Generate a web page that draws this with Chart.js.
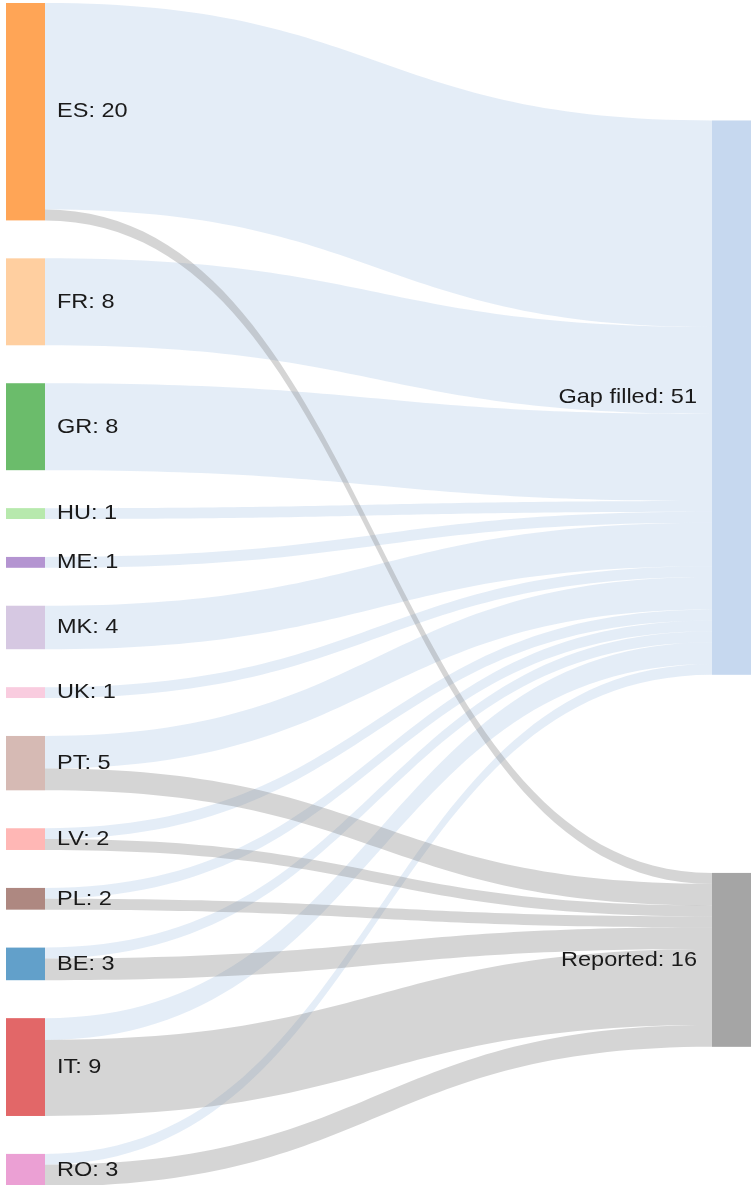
<!DOCTYPE html>
<html>
<head>
<meta charset="utf-8">
<script src="https://cdn.jsdelivr.net/npm/chart.js@4/dist/chart.umd.min.js"></script>
<style>
  html, body { margin: 0; padding: 0; background: #fff; }
  #wrap { width: 751px; height: 1185px; position: relative; }
</style>
</head>
<body>
<div id="wrap"><canvas id="myChart"></canvas></div>
<script>
// source countries, top to bottom
const sources = ['ES', 'FR', 'GR', 'HU', 'ME', 'MK', 'UK', 'PT', 'LV', 'PL', 'BE', 'IT', 'RO'];
const targets = ['Gap filled', 'Reported'];
// flow values per source into each target
const gapFilled = [19, 8, 8, 1, 1, 4, 1, 3, 1, 1, 1, 2, 1];
const reported  = [1, 0, 0, 0, 0, 0, 0, 2, 1, 1, 2, 7, 2];

// styles
const sourceColors = ['#ff7f0e', '#ffbb78', '#2ca02c', '#98df8a', '#9467bd', '#c5b0d5', '#f7b6d2',
                      '#c49c94', '#ff9896', '#8c564b', '#1f77b4', '#d62728', '#e377c2'];
const targetColors = ['#aec7e8', '#7f7f7f'];
const nodeAlpha = 0.7;
const linkAlpha = 0.33;
const nodePad = 3.49;     // gap between nodes, in value units
const nodeW = 39 / 745;   // node width, in x-axis units

function rgba(hex, a) {
    const n = parseInt(hex.slice(1), 16);
    return `rgba(${n >> 16},${(n >> 8) & 255},${n & 255},${a})`;
}

const flows = [gapFilled, reported];

function computeLayout() {
    // left column stacked from the top
    const left = [];
    let y = 0;
    sources.forEach((s, i) => {
        const v = gapFilled[i] + reported[i];
        left.push({ top: y, bottom: y + v, value: v });
        y += v + nodePad;
    });
    // right column: centred on the weighted mean of incoming flows
    const right = targets.map((t, j) => {
        let tot = 0, acc = 0;
        sources.forEach((s, i) => {
            const before = j === 0 ? 0 : gapFilled[i];
            const v = flows[j][i];
            if (!v) return;
            acc += v * (left[i].top + before + v / 2);
            tot += v;
        });
        const c = acc / tot;
        return { top: c - tot / 2, bottom: c + tot / 2, value: tot, off: c - tot / 2 };
    });
    // links, stacked on the right in source order
    const links = [];
    targets.forEach((t, j) => {
        sources.forEach((s, i) => {
            const v = flows[j][i];
            if (!v) return;
            const s0 = left[i].top + (j === 0 ? 0 : gapFilled[i]);
            links.push({ j, i, v, s0, t0: right[j].off });
            right[j].off += v;
        });
    });
    return { left, right, links };
}

const sankeyPlugin = {
    id: 'sankey',
    afterDatasetsDraw(chart) {
        const { ctx, scales: { x, y } } = chart;
        const L = computeLayout();
        const xl0 = x.getPixelForValue(0), xl1 = x.getPixelForValue(nodeW);
        const xr0 = x.getPixelForValue(1 - nodeW), xr1 = x.getPixelForValue(1);
        const xm = (xl1 + xr0) / 2;
        ctx.save();

        // links
        L.links.forEach(l => {
            const a0 = y.getPixelForValue(l.s0), a1 = y.getPixelForValue(l.s0 + l.v);
            const b0 = y.getPixelForValue(l.t0), b1 = y.getPixelForValue(l.t0 + l.v);
            ctx.beginPath();
            ctx.moveTo(xl1, a0);
            ctx.bezierCurveTo(xm, a0, xm, b0, xr0, b0);
            ctx.lineTo(xr0, b1);
            ctx.bezierCurveTo(xm, b1, xm, a1, xl1, a1);
            ctx.closePath();
            ctx.fillStyle = rgba(targetColors[l.j], linkAlpha);
            ctx.fill();
        });

        // nodes
        L.left.forEach((n, i) => {
            const t = y.getPixelForValue(n.top), b = y.getPixelForValue(n.bottom);
            ctx.fillStyle = rgba(sourceColors[i], nodeAlpha);
            ctx.fillRect(xl0, t, xl1 - xl0, b - t);
        });
        L.right.forEach((n, j) => {
            const t = y.getPixelForValue(n.top), b = y.getPixelForValue(n.bottom);
            ctx.fillStyle = rgba(targetColors[j], nodeAlpha);
            ctx.fillRect(xr0, t, xr1 - xr0, b - t);
        });

        // labels
        ctx.font = '21px "Liberation Sans", Arial, sans-serif';
        ctx.fillStyle = '#1a1a1a';
        ctx.textBaseline = 'middle';
        const label = (txt, px, py, align) => {
            ctx.save();
            ctx.translate(px, py);
            ctx.scale(1.12, 1);
            ctx.textAlign = align;
            ctx.fillText(txt, 0, 0);
            ctx.restore();
        };
        L.left.forEach((n, i) => {
            const c = y.getPixelForValue((n.top + n.bottom) / 2);
            label(sources[i] + ': ' + n.value, xl1 + 12, c, 'left');
        });
        L.right.forEach((n, j) => {
            const c = y.getPixelForValue((n.top + n.bottom) / 2);
            label(targets[j] + ': ' + n.value, xr0 - 15, c, 'right');
        });
        ctx.restore();
    }
};

const ctx = document.getElementById('myChart').getContext('2d');
const myChart = new Chart(ctx, {
    type: 'scatter',
    data: { datasets: [{ data: [] }] },
    options: {
        responsive: true,
        maintainAspectRatio: false,
        animation: false,
        layout: { padding: { left: 6, right: 0, top: 3, bottom: 0 } },
        plugins: { legend: { display: false }, tooltip: { enabled: false } },
        scales: {
            x: { type: 'linear', min: 0, max: 1, display: false },
            y: { type: 'linear', reverse: true, min: 0, max: 108.74, display: false }
        }
    },
    plugins: [sankeyPlugin]
});
</script>
</body>
</html>
